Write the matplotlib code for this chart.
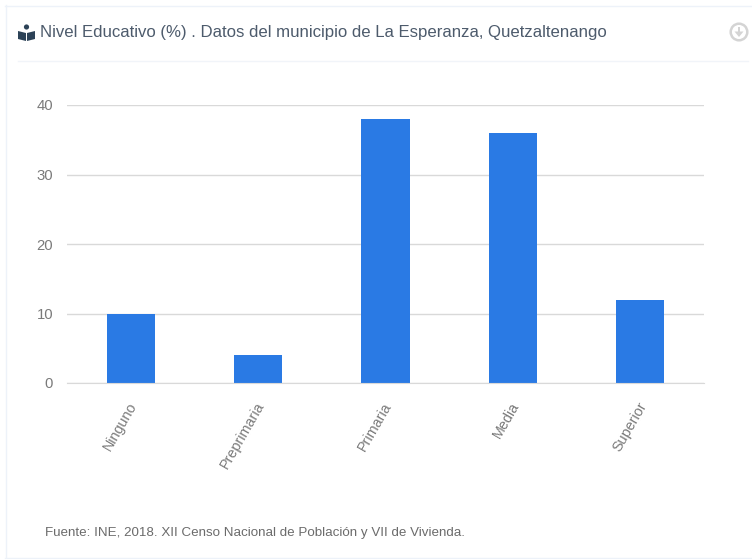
import numpy as np
import matplotlib
matplotlib.use('Agg')
import matplotlib.pyplot as plt
from matplotlib.patches import Circle, Polygon, Rectangle
from matplotlib.transforms import ScaledTranslation

categorias = ['Ninguno', 'Preprimaria', 'Primaria', 'Media', 'Superior']
valores = [10, 4, 38, 36, 12]
ticks_y = [0, 10, 20, 30, 40]
titulo = 'Nivel Educativo (%) . Datos del municipio de La Esperanza, Quetzaltenango'
fuente = 'Fuente: INE, 2018. XII Censo Nacional de Población y VII de Vivienda.'

W, H = 752, 559
plt.rcParams['font.family'] = ['Liberation Sans', 'DejaVu Sans']
fig = plt.figure(figsize=(W / 100, H / 100), dpi=100, facecolor='white')

# capa de fondo en pixeles para la tarjeta y el encabezado
bg = fig.add_axes([0, 0, 1, 1])
bg.set_xlim(0, W)
bg.set_ylim(H, 0)
bg.axis('off')
borde = '#edf2f9'
bg.plot([5, 752], [5.5, 5.5], color=borde, lw=1)
bg.plot([5.5, 5.5], [5, 557.5], color=borde, lw=1)
bg.plot([5, 752], [557.5, 557.5], color=borde, lw=1)
bg.plot([18, 748], [60.5, 60.5], color='#f1f4f9', lw=1)

# icono del libro
icono = '#2c4257'
bg.add_patch(Circle((26.5, 27), 2.6, color=icono, lw=0))
bg.add_patch(Polygon([[18, 31], [26, 33], [26, 41], [18, 39]], color=icono, lw=0))
bg.add_patch(Polygon([[27, 33], [35, 31], [35, 39], [27, 41]], color=icono, lw=0))

bg.text(40, 33, titulo, fontsize=12.08, color='#4d5b6c', va='center', ha='left')

# icono de descarga
gris = '#d4d4d4'
bg.add_patch(Circle((739, 32), 8.3, fc='white', ec=gris, lw=1.8))
bg.add_patch(Rectangle((737.7, 27), 2.6, 5, color=gris, lw=0))
bg.add_patch(Polygon([[734.5, 31.5], [743.5, 31.5], [739, 37]], color=gris, lw=0))

bg.text(45, 533, fuente, fontsize=9.67, color='#6b6b6b', va='center', ha='left')

# grafica de barras
left, right, top, bottom = 67, 704, 105, 383
ax = fig.add_axes([left / W, 1 - bottom / H, (right - left) / W, (bottom - top) / H])
ax.patch.set_alpha(0)
x = np.arange(len(categorias))
ax.bar(x, valores, width=0.377, color='#2a7ae4', zorder=3)
ax.set_xlim(-0.5, len(categorias) - 0.5)
ax.set_ylim(0, 40)
ax.set_yticks(ticks_y)
ax.set_xticks(x)
ax.set_xticklabels(categorias, rotation=60, ha='right', rotation_mode='anchor')
ax.grid(axis='y', color='#d9d9d9', lw=1, zorder=0)
ax.tick_params(axis='both', length=0, labelsize=10.4, labelcolor='#7a7a7a')
ax.tick_params(axis='y', pad=10, labelsize=10.7)
ax.tick_params(axis='x', pad=12)
for s in ['top', 'right', 'left']:
    ax.spines[s].set_visible(False)
ax.spines['bottom'].set_color('#d9d9d9')
ax.spines['bottom'].set_zorder(4)

# las etiquetas rotadas van un poco mas cerca del centro de la barra
desplaza = ScaledTranslation(-3 / 100, 0, fig.dpi_scale_trans)
for lab in ax.get_xticklabels():
    lab.set_transform(lab.get_transform() + desplaza)

fig.savefig('out.png', dpi=100)
